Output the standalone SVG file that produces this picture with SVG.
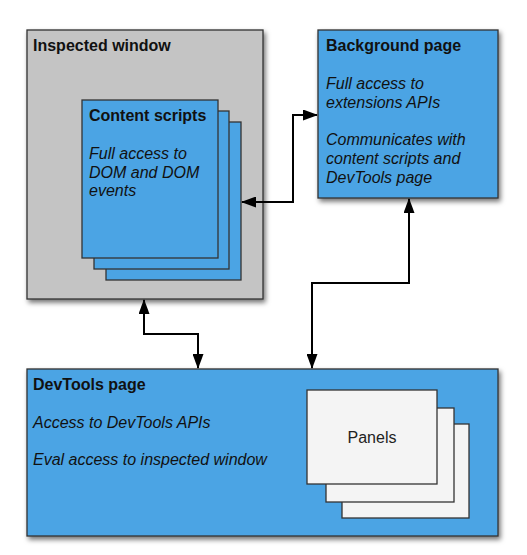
<svg xmlns="http://www.w3.org/2000/svg" width="527" height="555" viewBox="0 0 527 555">
<defs>
<filter id="sh" x="-10%" y="-10%" width="130%" height="130%">
<feDropShadow dx="2" dy="3" stdDeviation="2.5" flood-color="#000" flood-opacity="0.55"/>
</filter>
<marker id="ah" viewBox="0 0 15 11" refX="14" refY="5.5" markerWidth="15" markerHeight="11" markerUnits="userSpaceOnUse" orient="auto-start-reverse">
<path d="M0,0 L15,5.5 L0,11 Z" fill="#000"/>
</marker>
<style>
.box{stroke:#333;stroke-width:1.3}
.gray{fill:#c4c4c4}
.blue{fill:#4ba4e4}
.panel{fill:#f4f4f4}
.title{font-family:"Liberation Sans",Arial,sans-serif;font-weight:bold;font-size:16px;fill:#111}
.desc{font-family:"Liberation Sans",Arial,sans-serif;font-style:italic;font-size:16px;fill:#111}
.plain{font-family:"Liberation Sans",Arial,sans-serif;font-size:16px;fill:#222}
.conn{fill:none;stroke:#000;stroke-width:2}
</style>
</defs>
<rect width="527" height="555" fill="#fff"/>
<g id="inspected-window">
<rect class="box gray" x="27" y="30" width="236" height="269" filter="url(#sh)"/>
<text class="title" x="33" y="51">Inspected window</text>
</g>
<g id="content-scripts">
<rect class="box blue" x="106" y="122" width="135" height="158"/>
<rect class="box blue" x="94" y="111" width="135" height="158"/>
<rect class="box blue" x="82" y="100" width="136" height="158"/>
<text class="title" x="89" y="121">Content scripts</text>
<text class="desc" x="89" y="159">Full access to</text>
<text class="desc" x="89" y="178">DOM and DOM</text>
<text class="desc" x="89" y="196">events</text>
</g>
<g id="background-page">
<rect class="box blue" x="318" y="30" width="180" height="168" filter="url(#sh)"/>
<text class="title" x="326" y="51">Background page</text>
<text class="desc" x="326" y="89">Full access to</text>
<text class="desc" x="326" y="108">extensions APIs</text>
<text class="desc" x="326" y="145">Communicates with</text>
<text class="desc" x="326" y="164">content scripts and</text>
<text class="desc" x="326" y="183">DevTools page</text>
</g>
<g id="devtools-page">
<rect class="box blue" x="27" y="369" width="471" height="167" filter="url(#sh)"/>
<text class="title" x="33" y="390">DevTools page</text>
<text class="desc" x="33" y="428">Access to DevTools APIs</text>
<text class="desc" x="33" y="465">Eval access to inspected window</text>
</g>
<g id="panels">
<rect class="box panel" x="342" y="424" width="127" height="94"/>
<rect class="box panel" x="326" y="408" width="128" height="94"/>
<rect class="box panel" x="307" y="390" width="130" height="94"/>
<text class="plain" x="372" y="443" text-anchor="middle">Panels</text>
</g>
<g id="connectors">
<path class="conn" d="M242,202 L293,202 L293,115 L317,115" marker-start="url(#ah)" marker-end="url(#ah)"/>
<path class="conn" d="M144,300 L144,334 L198,334 L198,368" marker-start="url(#ah)" marker-end="url(#ah)"/>
<path class="conn" d="M409,199 L409,283 L312,283 L312,368" marker-start="url(#ah)" marker-end="url(#ah)"/>
</g>
</svg>
